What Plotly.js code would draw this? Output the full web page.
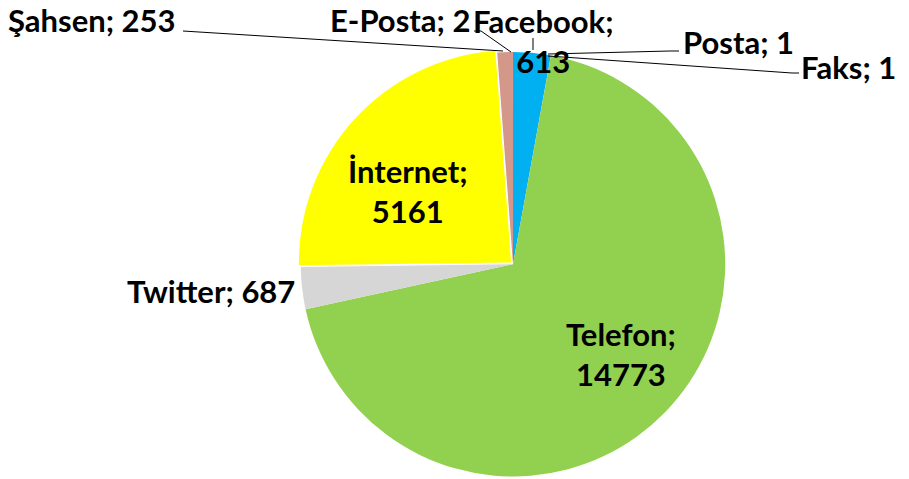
<!DOCTYPE html>
<html>
<head>
<meta charset="utf-8">
<script src="https://cdn.plot.ly/plotly-3.0.1.min.js"></script>
<style>
html,body{margin:0;padding:0;background:#fff;overflow:hidden}
</style>
</head>
<body>
<div id="chart" style="width:909px;height:479px"></div>
<script>
// Data (clockwise from 12 o'clock)
const labels = ["Facebook", "Posta", "Faks", "Telefon", "Twitter", "İnternet", "Şahsen", "E-Posta"];
const values = [613, 1, 1, 14773, 687, 5161, 253, 2];
const colors = ["#00B0F0", "#4F81BD", "#8064A2", "#92D050", "#D6D6D6", "#FFFF00", "#D4988A", "#C0504D"];
const pulls  = [0, 0, 0, 0, 0, 0.012, 0, 0];

// label layout: [px x, px y, xanchor, twoLines]
const labelPos = {
  "Facebook": [543, 41, "center", true],
  "Posta":    [682, 42, "left", false],
  "Faks":     [800, 67, "left", false],
  "Telefon":  [621, 354, "center", true],
  "Twitter":  [296, 291, "right", false],
  "İnternet": [408, 191, "center", true],
  "Şahsen":   [177, 20, "right", false],
  "E-Posta":  [471, 20, "right", false]
};
// leader lines in px
const leaders = [
  [[183,31],[503,51]],
  [[474,31],[481,31],[511,52]],
  [[533,38],[533,50]],
  [[679,51],[670,51],[548,54]],
  [[799,73],[792,73],[548,56]]
];

const W = 909, H = 479;
const px = x => x / W, py = y => 1 - y / H;
const font = {family: "Lato", size: 31, color: "#000", weight: "bold"};

const annotations = labels.map((l, i) => {
  const p = labelPos[l];
  return {
    x: px(p[0]), y: py(p[1]), xref: "paper", yref: "paper",
    xanchor: p[2], yanchor: "middle", align: "center",
    text: l + ";" + (p[3] ? "<br>" : " ") + values[i],
    showarrow: false, font: font, borderpad: 0
  };
});

const shapes = leaders.map(pts => ({
  type: "path", xref: "paper", yref: "paper",
  path: pts.map((p, i) => (i ? "L" : "M") + px(p[0]) + "," + py(p[1])).join(" "),
  line: {color: "#000", width: 1}
}));

const cx = 513, cy = 265, r = 213 * (1 + 0.012);
Plotly.newPlot("chart", [{
  type: "pie",
  labels: labels, values: values,
  sort: false, direction: "clockwise", rotation: 0,
  pull: pulls,
  marker: {colors: colors, line: {width: 0}},
  textinfo: "none", hoverinfo: "label+value",
  domain: {x: [px(cx - r), px(cx + r)], y: [1 - (cy + r) / H, 1 - (cy - r) / H]}
}], {
  width: W, height: H,
  margin: {l: 0, r: 0, t: 0, b: 0},
  showlegend: false,
  paper_bgcolor: "#fff",
  annotations: annotations,
  shapes: shapes
}, {displayModeBar: false, staticPlot: true});
</script>
</body>
</html>
